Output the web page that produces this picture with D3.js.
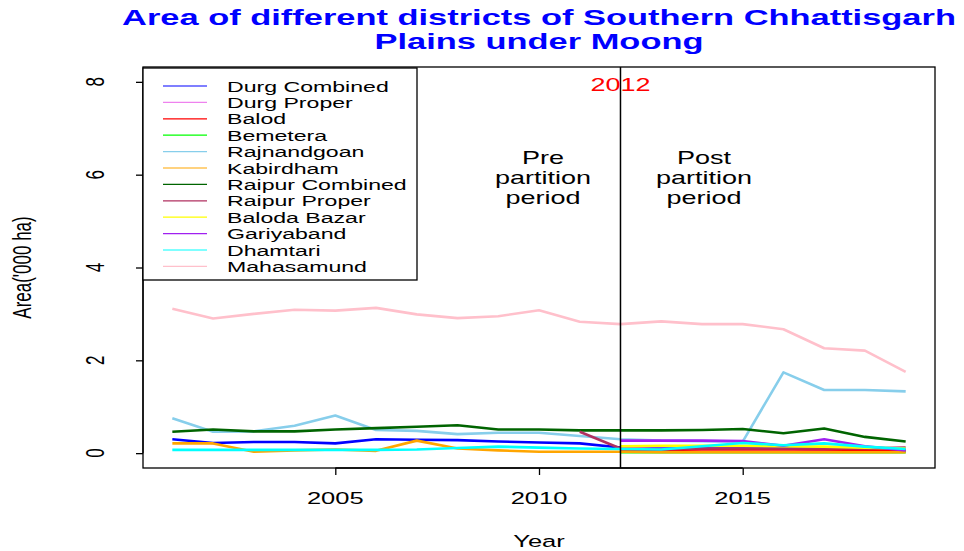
<!DOCTYPE html>
<html>
<head>
<meta charset="utf-8">
<script src="https://cdn.jsdelivr.net/npm/d3@7"></script>
<style>
  body { margin: 0; background: #fff; }
  svg { display: block; font-family: 'Liberation Sans', Arial, sans-serif; }
</style>
</head>
<body>
<div id="chart"></div>
<script>
const years = d3.range(2001, 2020);

const districts = [
  'Durg Combined', 'Durg Proper', 'Balod', 'Bemetera', 'Rajnandgoan', 'Kabirdham',
  'Raipur Combined', 'Raipur Proper', 'Baloda Bazar', 'Gariyaband', 'Dhamtari', 'Mahasamund'
];

const colors = [
  '#0000FF', '#EE82EE', '#FF0000', '#00FF00', '#87CEEB', '#FFA500',
  '#006400', '#B03060', '#FFFF00', '#A020F0', '#00FFFF', '#FFC0CB'
];

// Area ('000 ha), 2001..2019, null where the district did not exist
const durgCombined = [0.30, 0.22, 0.24, 0.24, 0.21, 0.30, 0.29, 0.28, 0.25, 0.23, 0.21, 0.12, 0.10, 0.10, 0.10, 0.10, 0.08, 0.07, 0.05];
const durgProper = [null, null, null, null, null, null, null, null, null, null, null, 0.11, 0.09, 0.09, 0.09, 0.09, 0.08, 0.07, 0.06];
const balod = [null, null, null, null, null, null, null, null, null, null, null, 0.05, 0.07, 0.08, 0.08, 0.08, 0.08, 0.07, 0.06];
const bemetera = [null, null, null, null, null, null, null, null, null, null, null, 0.02, 0.02, 0.02, 0.02, 0.02, 0.02, 0.02, 0.02];
const rajnandgoan = [0.75, 0.46, 0.47, 0.59, 0.81, 0.50, 0.48, 0.41, 0.44, 0.44, 0.37, 0.30, 0.27, 0.26, 0.25, 1.74, 1.36, 1.36, 1.33];
const kabirdham = [0.21, 0.21, 0.03, 0.06, 0.08, 0.05, 0.27, 0.10, 0.06, 0.03, 0.03, 0.03, 0.02, 0.02, 0.02, 0.02, 0.02, 0.02, 0.02];
const raipurCombined = [0.46, 0.51, 0.47, 0.47, 0.51, 0.54, 0.57, 0.60, 0.51, 0.51, 0.49, 0.49, 0.49, 0.50, 0.52, 0.43, 0.53, 0.35, 0.25];
const raipurProper = [null, null, null, null, null, null, null, null, null, null, 0.46, 0.10, 0.08, 0.10, 0.10, 0.10, 0.10, 0.10, 0.12];
const balodaBazar = [null, null, null, null, null, null, null, null, null, null, null, 0.15, 0.16, 0.16, 0.16, 0.15, 0.14, 0.12, 0.10];
const gariyaband = [null, null, null, null, null, null, null, null, null, null, null, 0.27, 0.27, 0.27, 0.26, 0.16, 0.30, 0.15, 0.06];
const dhamtari = [0.07, 0.07, 0.07, 0.07, 0.07, 0.07, 0.08, 0.11, 0.14, 0.12, 0.10, 0.09, 0.08, 0.15, 0.22, 0.17, 0.21, 0.14, 0.09];
const mahasamund = [3.11, 2.90, 3.00, 3.09, 3.07, 3.13, 2.99, 2.91, 2.95, 3.08, 2.83, 2.78, 2.84, 2.78, 2.78, 2.67, 2.26, 2.21, 1.75];

const seriesValues = [
  durgCombined, durgProper, balod, bemetera, rajnandgoan, kabirdham,
  raipurCombined, raipurProper, balodaBazar, gariyaband, dhamtari, mahasamund
];

const xTicks = [2005, 2010, 2015];
const yTicks = [0, 2, 4, 6, 8];
const partitionYear = 2012;

const width = 964;
const height = 551;
const marginTop = 67;
const marginRight = 29;
const marginBottom = 83;
const marginLeft = 143;

// the reference is stretched sideways, so text is too
const SX = 1.5;

const svg = d3.select('#chart')
  .append('svg')
  .attr('width', width)
  .attr('height', height);

const xScale = d3.scaleLinear()
  .domain([2001 - 0.72, 2019 + 0.72])
  .range([marginLeft, width - marginRight]);

const yScale = d3.scaleLinear()
  .domain([-0.32, 8.32])
  .range([height - marginBottom, marginTop]);

function hText(x, y, str, size, opts = {}) {
  return svg.append('text')
    .attr('transform', `translate(${x},${y}) scale(${opts.sx || SX},1)`)
    .attr('text-anchor', opts.anchor || 'middle')
    .attr('font-size', size)
    .attr('font-weight', opts.weight || 'normal')
    .attr('fill', opts.fill || '#000')
    .text(str);
}

function vText(x, y, str, size) {
  return svg.append('text')
    .attr('transform', `translate(${x},${y}) rotate(-90) scale(1,${SX})`)
    .attr('text-anchor', 'middle')
    .attr('dominant-baseline', 'central')
    .attr('font-size', size)
    .text(str);
}

// Lines
const line = d3.line()
  .defined((d) => d != null)
  .x((d, i) => xScale(years[i]))
  .y((d) => yScale(d));

svg.append('g')
  .attr('class', 'lines')
  .selectAll('path')
  .data(seriesValues)
  .join('path')
  .attr('fill', 'none')
  .attr('stroke', (d, i) => colors[i])
  .attr('stroke-width', 2.6)
  .attr('stroke-linejoin', 'round')
  .attr('d', line);

// Partition line
svg.append('line')
  .attr('x1', xScale(partitionYear))
  .attr('x2', xScale(partitionYear))
  .attr('y1', marginTop)
  .attr('y2', height - marginBottom)
  .attr('stroke', '#000')
  .attr('stroke-width', 1.5);

// Plot box
svg.append('rect')
  .attr('x', marginLeft)
  .attr('y', marginTop)
  .attr('width', width - marginRight - marginLeft)
  .attr('height', height - marginBottom - marginTop)
  .attr('fill', 'none')
  .attr('stroke', '#000')
  .attr('stroke-width', 1.3);

// X axis
const xAxis = svg.append('g')
  .attr('transform', `translate(0,${height - marginBottom})`)
  .call(d3.axisBottom(xScale).tickValues(xTicks).tickSize(7).tickFormat(''));
xAxis.select('.domain')
  .attr('d', `M${xScale(xTicks[0])},0H${xScale(xTicks[xTicks.length - 1])}`)
  .attr('stroke-width', 1.3);
xAxis.selectAll('.tick line').attr('stroke-width', 1.3);
xTicks.forEach((t) => hText(xScale(t), 504, t, 17));

// Y axis
const yAxis = svg.append('g')
  .attr('transform', `translate(${marginLeft},0)`)
  .call(d3.axisLeft(yScale).tickValues(yTicks).tickSize(7).tickFormat(''));
yAxis.select('.domain')
  .attr('d', `M0,${yScale(yTicks[0])}V${yScale(yTicks[yTicks.length - 1])}`)
  .attr('stroke-width', 1.3);
yAxis.selectAll('.tick line').attr('stroke-width', 1.3);
yTicks.forEach((t) => vText(95, yScale(t), t, 17));

// Axis titles
hText((marginLeft + width - marginRight) / 2, 547, 'Year', 17);
vText(22, (marginTop + height - marginBottom) / 2, "Area('000 ha)", 17);

// Title
const titleX = (marginLeft + width - marginRight) / 2;
const titleOpts = { weight: 'bold', fill: '#0000FF', sx: 1.53 };
hText(titleX, 25, 'Area of different districts of Southern Chhattisgarh', 22.5, titleOpts);
hText(titleX, 49, 'Plains under Moong', 22.5, titleOpts);

// Annotations
hText(xScale(partitionYear), 91, '2012', 18, { fill: '#FF0000' });
['Pre', 'partition', 'period'].forEach((s, i) => hText(xScale(2010.1), 164 + i * 20, s, 18));
['Post', 'partition', 'period'].forEach((s, i) => hText(xScale(2014.05), 164 + i * 20, s, 18));

// Legend
const legend = svg.append('g').attr('class', 'legend');
legend.append('rect')
  .attr('x', marginLeft)
  .attr('y', marginTop + 1)
  .attr('width', 274)
  .attr('height', 212)
  .attr('fill', '#fff')
  .attr('stroke', '#000')
  .attr('stroke-width', 1.3);

districts.forEach((name, i) => {
  const y = 86 + i * 16.4;
  legend.append('line')
    .attr('x1', 163)
    .attr('x2', 207)
    .attr('y1', y)
    .attr('y2', y)
    .attr('stroke', colors[i])
    .attr('stroke-width', 1.2);
  legend.append('text')
    .attr('transform', `translate(227,${y + 5.5}) scale(${SX},1)`)
    .attr('font-size', 15.4)
    .text(name);
});
</script>
</body>
</html>
